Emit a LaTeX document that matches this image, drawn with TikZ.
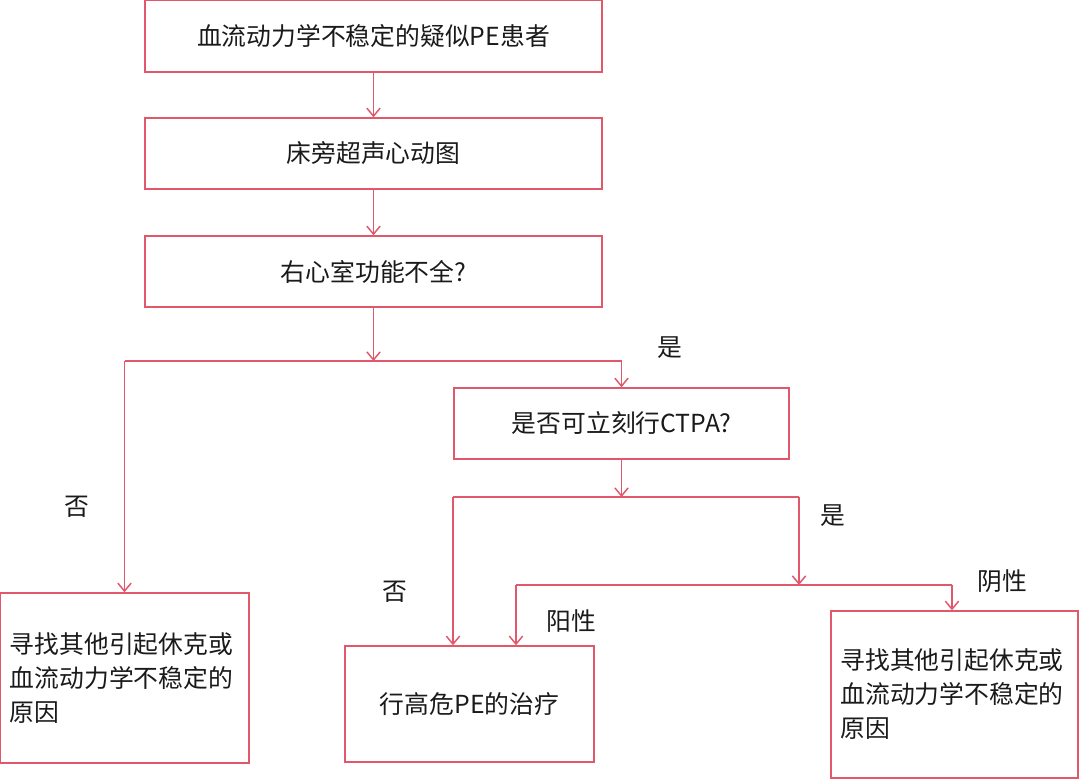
\documentclass[tikz,border=0pt]{standalone}
\usepackage{fontspec}
\setmainfont{Noto Sans CJK SC}
\usetikzlibrary{arrows.meta}
\definecolor{lred}{RGB}{224,88,106}
\definecolor{txt}{RGB}{26,26,26}
\begin{document}
\begin{tikzpicture}[x=0.75pt,y=-0.75pt,
  every node/.style={font=\fontsize{18.6}{25.5}\selectfont, text=txt},
  box/.style={draw=lred, line width=1.1pt, rectangle, inner sep=0pt, align=center},
  conn/.style={draw=lred, line width=1.1pt},
  arr/.style={conn, -{Straight Barb[length=6pt,width=10pt,line width=1.1pt]}},
  lbl/.style={inner sep=0pt}]
\useasboundingbox (0,0) rectangle (1080,781);
% boxes
\node[box, minimum width=342.75pt, minimum height=54pt] (b1) at (373.5,36) {血流动力学不稳定的疑似PE患者};
\node[box, minimum width=342.75pt, minimum height=53.25pt] (b2) at (373.5,153.5) {床旁超声心动图};
\node[box, minimum width=342.75pt, minimum height=53.25pt] (b3) at (373.5,271.5) {右心室功能不全?};
\node[box, minimum width=251.25pt, minimum height=53.25pt] (b5) at (621.5,423.5) {是否可立刻行CTPA?};
\node[box, minimum width=186.75pt, minimum height=127.5pt, align=left, text width=172pt] (b4) at (124.5,678) {寻找其他引起休克或\\血流动力学不稳定的\\原因};
\node[box, minimum width=186.75pt, minimum height=87pt] (b6) at (469.5,704) {行高危PE的治疗};
\node[box, minimum width=185.25pt, minimum height=125.25pt, align=left, text width=171pt] (b7) at (954.5,694.5) {寻找其他引起休克或\\血流动力学不稳定的\\原因};
% junctions
\coordinate (j1) at (373.5,361);
\coordinate (l1) at (124.5,361);
\coordinate (r1) at (621.5,361);
\coordinate (j2) at (621.5,497);
\coordinate (l2) at (453,497);
\coordinate (r2) at (799,497);
\coordinate (j3) at (799,585);
\coordinate (l3) at (516,585);
\coordinate (r3) at (952,585);
% connectors
\draw[arr] (b1) -- (b2);
\draw[arr] (b2) -- (b3);
\draw[arr] (b3.south) -- (j1);
\draw[conn] (l1) -- (r1);
\draw[arr] (l1) -- (b4.north);
\draw[arr] (r1) -- (b5.north);
\draw[arr] (b5.south) -- (j2);
\draw[conn] (l2) -- (r2);
\draw[arr] (l2) -- (l2 |- b6.north);
\draw[arr] (r2) -- (j3);
\draw[conn] (l3) -- (r3);
\draw[arr] (l3) -- (l3 |- b6.north);
\draw[arr] (r3) -- (r3 |- b7.north);
% labels
\node[lbl] (t1) at (670,348) {是};
\node[lbl] (t2) at (77,507) {否};
\node[lbl] (t3) at (833,516) {是};
\node[lbl] (t4) at (395,592) {否};
\node[lbl] (t5) at (1002,581) {阴性};
\node[lbl] (t6) at (571,621) {阳性};
\end{tikzpicture}
\end{document}
